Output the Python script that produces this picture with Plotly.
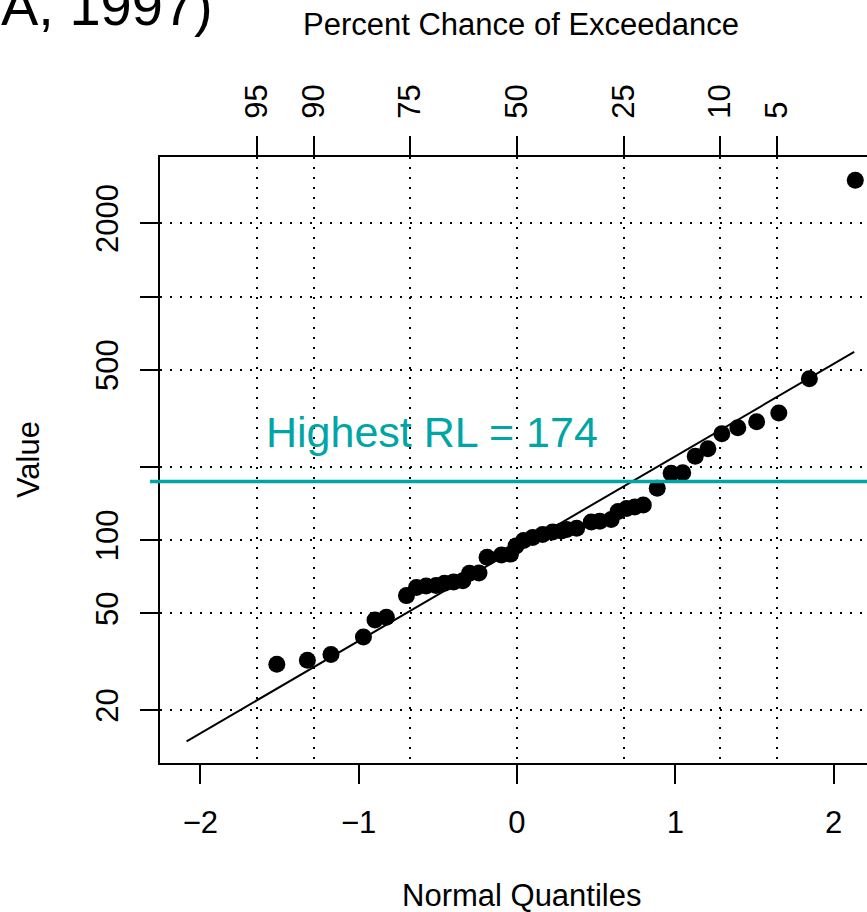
import plotly.graph_objects as go
from statistics import NormalDist

# ---- data ----
normal_quantiles = [-1.517, -1.324, -1.175, -0.970, -0.897, -0.825, -0.698, -0.635, -0.574, -0.511,
                    -0.458, -0.400, -0.342, -0.300, -0.240, -0.189, -0.098, -0.041, -0.006, 0.042,
                    0.099, 0.162, 0.225, 0.282, 0.314, 0.377, 0.469, 0.523, 0.595, 0.639,
                    0.693, 0.744, 0.798, 0.886, 0.974, 1.047, 1.126, 1.206, 1.294, 1.395,
                    1.514, 1.654, 1.847, 2.137]
values = [30.9, 32.1, 33.9, 40.0, 46.9, 48.2, 59.1, 63.8, 64.7, 65.0,
          66.5, 67.3, 68.0, 73.0, 73.2, 84.9, 86.8, 87.5, 94.5, 99.5,
          102.4, 105.3, 107.9, 108.9, 110.5, 111.7, 118.5, 119.5, 121.4, 131.0,
          134.8, 136.7, 139.3, 163.2, 187.8, 188.7, 220.7, 236.8, 273.1, 289.0,
          305.9, 332.2, 459.8, 3000.0]
fit_line_q = [-2.087, 2.130]
fit_line_v = [14.9, 592.0]
highest_rl = 174
exceed_pct = [95, 90, 75, 50, 25, 10, 5]
x_ticks = [-2, -1, 0, 1, 2]
y_ticks = [20, 50, 100, 200, 500, 1000, 2000]
y_ticklabels = ["20", "50", "100", "", "500", "", "2000"]

FONT = "Liberation Sans, Arial, Helvetica, sans-serif"
TEAL = "#00A5A5"
exceed_pos = [NormalDist().inv_cdf(1 - p / 100) for p in exceed_pct]

XR = [-2.255, 2.211]
YR = [1.0842, 3.5729]

fig = go.Figure()
fig.add_trace(go.Scatter(x=fit_line_q, y=fit_line_v, mode="lines",
                         line=dict(color="black", width=2), showlegend=False, hoverinfo="skip"))
fig.add_trace(go.Scatter(x=normal_quantiles, y=values, mode="markers",
                         marker=dict(color="black", size=17, line=dict(width=0)), showlegend=False))
# invisible trace for top axis
fig.add_trace(go.Scatter(x=[0], y=[100], xaxis="x2", mode="markers",
                         marker=dict(opacity=0), showlegend=False, hoverinfo="skip"))

fig.add_shape(type="line", xref="paper", yref="y", x0=-0.0141, x1=1.02,
              y0=highest_rl, y1=highest_rl, line=dict(color=TEAL, width=3.5))

fig.update_layout(
    width=867, height=912,
    margin=dict(l=160, r=0, t=157, b=149),
    paper_bgcolor="white", plot_bgcolor="white",
    font=dict(family=FONT, size=31, color="black"),
    xaxis=dict(range=XR, tickvals=x_ticks, ticks="outside", ticklen=19, tickwidth=1.5,
               tickcolor="black", showgrid=False, zeroline=False, showline=True,
               linecolor="black", linewidth=2, tickfont=dict(size=31),
               ticklabelstandoff=12),
    xaxis2=dict(range=XR, overlaying="x", side="top", tickvals=exceed_pos,
                ticktext=[str(p) for p in exceed_pct], tickangle=-90,
                ticks="outside", ticklen=19, tickwidth=1.5, tickcolor="black",
                showgrid=True, gridcolor="black", gridwidth=1.5, griddash="2px,8px",
                zeroline=False, showline=True, linecolor="black", linewidth=2,
                tickfont=dict(size=31), ticklabelstandoff=11),
    yaxis=dict(type="log", range=YR, tickvals=y_ticks, ticktext=y_ticklabels,
               tickangle=-90, ticks="outside", ticklen=18, tickwidth=1.5, tickcolor="black",
               showgrid=True, gridcolor="black", gridwidth=1.5, griddash="2px,8px",
               zeroline=False, showline=True, linecolor="black", linewidth=2,
               tickfont=dict(size=31), ticklabelstandoff=10),
    annotations=[
        dict(text="Normal Quantiles", xref="paper", yref="paper", x=0.512, y=-0.2185,
             xanchor="center", yanchor="middle", showarrow=False, font=dict(size=31)),
        dict(text="Percent Chance of Exceedance", xref="paper", yref="paper", x=0.5106, y=1.219,
             xanchor="center", yanchor="middle", showarrow=False, font=dict(size=31)),
        dict(text="Value", xref="paper", yref="paper", x=-0.1867, y=0.5, textangle=-90,
             xanchor="center", yanchor="middle", showarrow=False, font=dict(size=31)),
        dict(text="Highest RL = 174", xref="paper", yref="paper", x=0.1465, y=0.546,
             xanchor="left", yanchor="middle", showarrow=False,
             font=dict(size=43, color=TEAL)),
        dict(text="A, 1997)", xref="paper", yref="paper", x=0.0785, y=1.2508,
             xanchor="right", yanchor="middle", showarrow=False, font=dict(size=56)),
    ],
)

fig.write_html("out.html")
